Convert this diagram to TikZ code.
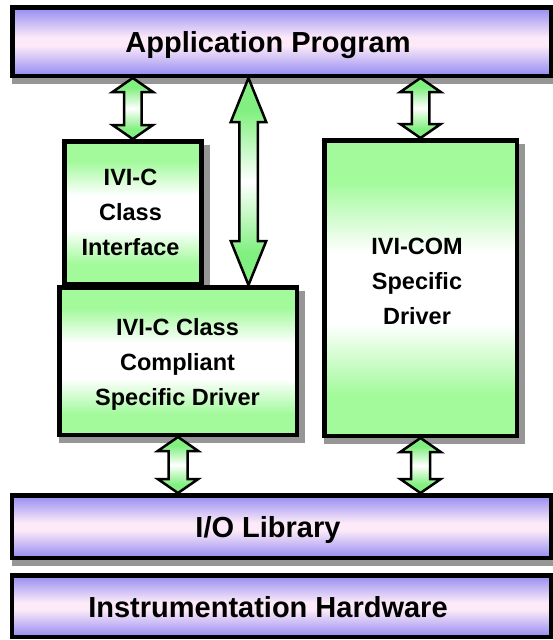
\documentclass[tikz,border=0pt]{standalone}
\usepackage{fontspec}
\setmainfont{Liberation Sans}
\usetikzlibrary{calc,backgrounds}
\definecolor{pur}{RGB}{148,138,242}
\definecolor{pnk}{RGB}{252,234,248}
\definecolor{grn}{RGB}{162,250,155}
\definecolor{agrn}{RGB}{130,240,128}
\definecolor{shd}{RGB}{150,150,150}
\pgfdeclareverticalshading{purplebar}{100bp}{color(0bp)=(pur); color(25bp)=(pur); color(47bp)=(pnk); color(53bp)=(pnk); color(75bp)=(pur); color(100bp)=(pur)}
\pgfdeclareverticalshading{greenbar}{100bp}{color(0bp)=(grn); color(25bp)=(grn); color(32bp)=(grn); color(44bp)=(white); color(56bp)=(white); color(68bp)=(grn); color(75bp)=(grn); color(100bp)=(grn)}
\pgfdeclareverticalshading{arrowbar}{100bp}{color(0bp)=(agrn); color(25bp)=(agrn); color(33bp)=(agrn); color(50bp)=(white); color(67bp)=(agrn); color(75bp)=(agrn); color(100bp)=(agrn)}
\newcommand\myDblArrow[5]{%
  \draw[arrowsty] (#1) -- ($(#1)+(#3,#5)$) -- ($(#1)+(#4,#5)$) -- ($(#2)+(#4,-#5)$) -- ($(#2)+(#3,-#5)$) -- (#2) -- ($(#2)+(-#3,-#5)$) -- ($(#2)+(-#4,-#5)$) -- ($(#1)+(-#4,#5)$) -- ($(#1)+(-#3,#5)$) -- cycle;}
\begin{document}
\begin{tikzpicture}[x=1pt,y=-1pt,
  pbox/.style={rectangle, draw=black, line width=4.5pt, shading=purplebar, inner sep=0pt},
  gbox/.style={rectangle, draw=black, line width=4.5pt, shading=greenbar, inner sep=0pt},
  ptext/.style={font=\bfseries\fontsize{29}{34}\selectfont, inner sep=0pt},
  gtext/.style={font=\bfseries\fontsize{23.5}{35}\selectfont, align=center, inner sep=0pt},
  arrowsty/.style={draw=black, line width=2.5pt, shading=arrowbar, line join=miter}]
\useasboundingbox (0,0) rectangle (553,640);
% wide boxes
\node[pbox, minimum width=538.5pt, minimum height=68.5pt] (app) at (281.5,41.5) {};
\node[ptext, anchor=base] (appt) at (268,52) {Application Program};
\node[pbox, minimum width=539pt, minimum height=62.5pt] (io) at (281.25,526.5) {};
\node[ptext, anchor=base] (iot) at (268,537) {I/O Library};
\node[pbox, minimum width=539pt, minimum height=61.5pt] (hw) at (281.25,606) {};
\node[ptext, anchor=base] (hwt) at (268,617) {Instrumentation Hardware};
% green boxes
\node[gbox, minimum width=137pt, minimum height=142.5pt] (ci) at (132.75,212.5) {};
\node[gbox, minimum width=237.5pt, minimum height=147.5pt] (ccd) at (178,361) {};
\node[gbox, minimum width=192.5pt, minimum height=295.5pt] (com) at (420.5,288) {};
\node[gtext] (cit) at (130.5,212.5) {IVI-C\\Class\\Interface};
\node[gtext] (ccdt) at (177.5,364) {IVI-C Class\\Compliant\\Specific Driver};
\node[gtext] (comt) at (417,281.5) {IVI-COM\\Specific\\Driver};
% background and shadows
\begin{pgfonlayer}{background}
  \fill[white] (0,0) rectangle (553,640);
  \foreach \n in {app,io,ci,ccd,com}
    \fill[shd] ([shift={(2,6)}]\n.north west) rectangle ([shift={(6,6)}]\n.south east);
\end{pgfonlayer}
% arrow end points
\coordinate (a1t) at (ci.north |- app.south);
\coordinate (a2t) at (com.north |- app.south);
\coordinate (bx) at (248.5,0);
\coordinate (bxt) at (bx |- app.south);
\coordinate (bxb) at (bx |- ccd.north);
\coordinate (a3b) at (ccd.south |- io.north);
\coordinate (a4b) at (com.south |- io.north);
% arrows
\myDblArrow{a1t}{ci.north}{20.25}{8.75}{14}
\myDblArrow{a2t}{com.north}{20.25}{8.75}{14}
\myDblArrow{bxt}{bxb}{17.75}{9.25}{44}
\myDblArrow{ccd.south}{a3b}{20.25}{9.5}{14}
\myDblArrow{com.south}{a4b}{20.25}{9.5}{14}
\end{tikzpicture}
\end{document}
